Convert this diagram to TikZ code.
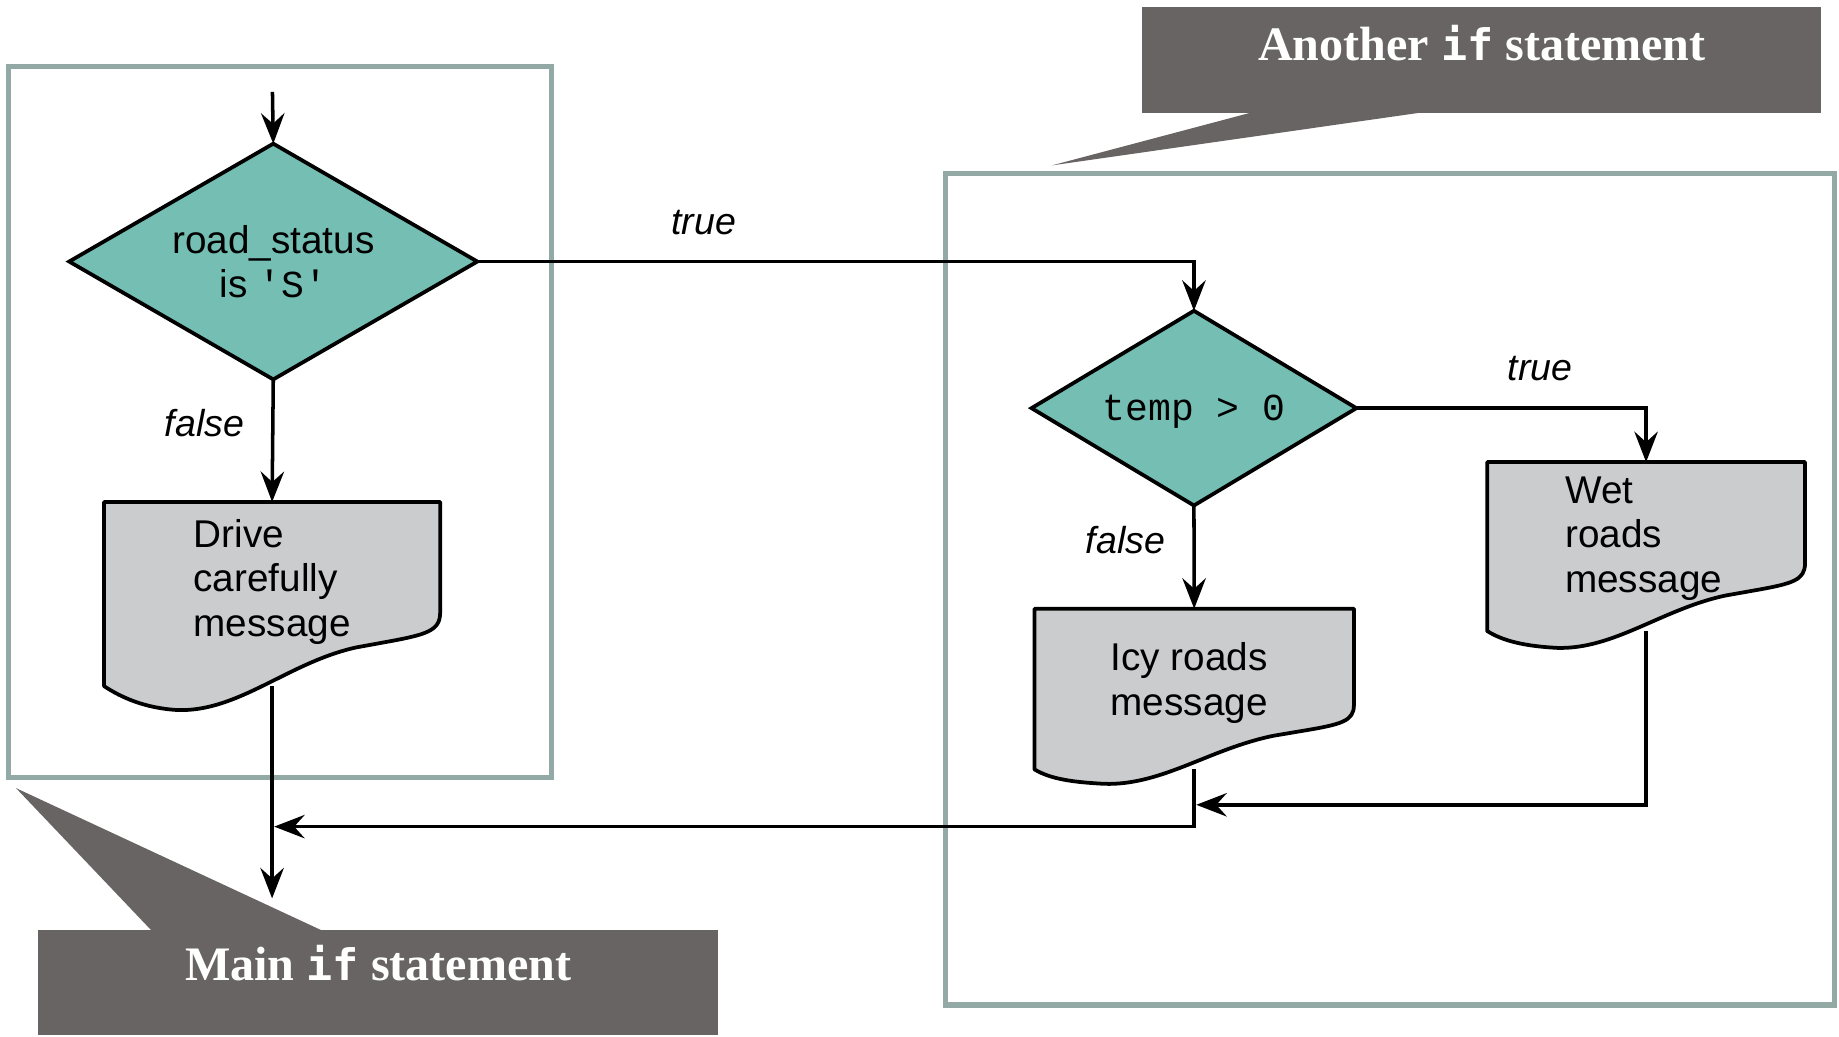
\documentclass[tikz,border=0pt]{standalone}
\usepackage{fontspec}
\usetikzlibrary{arrows.meta,shapes.geometric,calc}
\newfontfamily\flowsans{Liberation Sans}
\newfontfamily\flowmono{Liberation Mono}[Ligatures=TeXOff]
\newfontfamily\callserif{Liberation Serif}
\newfontfamily\callmono{DejaVu Sans Mono}[Ligatures=TeXOff]
\definecolor{diateal}{RGB}{116,190,180}
\definecolor{docgray}{RGB}{203,204,206}
\definecolor{callc}{RGB}{104,100,99}
\definecolor{groupc}{RGB}{147,169,166}
\tikzset{
  arr/.style={draw=black, line width=1.5pt, -{Stealth[length=13pt,width=10pt,inset=4.5pt]}},
  decision/.style={diamond, draw=black, line width=1.6pt, fill=diateal, inner sep=0pt, outer sep=0pt, align=center, font=\flowsans\fontsize{16.5}{19}\selectfont},
  docnode/.style={rectangle, draw=none, inner sep=0pt, outer sep=0pt},
  docfill/.style={draw=black, line width=1.6pt, fill=docgray, line join=round},
  msg/.style={inner sep=0pt, font=\flowsans\fontsize{16.5}{19}\selectfont, text=black},
  lbl/.style={inner sep=0pt, font=\flowsans\itshape\fontsize{16}{19}\selectfont},
  groupbox/.style={draw=groupc, line width=2.25pt},
  callbox/.style={rectangle, fill=callc, draw=none, inner sep=0pt, outer sep=0pt},
  calltext/.style={inner sep=0pt, text=white, font=\callserif\bfseries\fontsize{20.5}{24}\selectfont},
}
% #1 = depth factor of the wave's low point, #2 = node name
\newcommand\docshape[2][1.13]{%
  \path[docfill] let \p1=(#2.north west), \p2=(#2.south east), \n1={\x2-\x1}, \n2={\y1-\y2} in
    (\x1,\y1) -- (\x2,\y1) -- (\x2,{\y1-0.6*\n2})
    .. controls (\x2,{\y1-0.7*\n2}) and ({\x1+0.96*\n1},{\y1-0.72*\n2}) .. ({\x1+0.84*\n1},{\y1-0.76*\n2})
    -- ({\x1+0.75*\n1},{\y1-0.79*\n2})
    .. controls ({\x1+0.55*\n1},{\y1-0.87*\n2}) and ({\x1+0.4*\n1},{\y1-(#1+0.01)*\n2}) .. ({\x1+0.22*\n1},{\y1-#1*\n2})
    .. controls ({\x1+0.12*\n1},{\y1-(#1-0.01)*\n2}) and ({\x1+0.05*\n1},{\y1-1.06*\n2}) .. (\x1,\y2) -- cycle;}
\newcommand\cmono[1]{{\callmono\bfseries\fontsize{18.5}{24}\selectfont #1}}
\begin{document}
\begin{tikzpicture}[x=0.5pt, y=-0.5pt]
\useasboundingbox (0,0) rectangle (1568,884);
% group boxes
\draw[groupbox] (7,57) rectangle (470.5,663);
\draw[groupbox] (806,148) rectangle (1564,857);
% callouts
\node[callbox, minimum width=289.7pt, minimum height=44.95pt] (maincall) at (322.3,837.55) {};
\coordinate (maintip) at (13.7,672);
\fill[callc] ($(maincall.north west)+(96.3,0.5)$) -- (maintip) -- ($(maincall.north west)+(241.4,0.5)$) -- cycle;
\node[calltext, anchor=base] (maintext) at (322.5,836) {Main \cmono{if} statement};
\node[callbox, minimum width=289.5pt, minimum height=45pt] (anothercall) at (1263.5,51) {};
\coordinate (anothertip) at (897,141);
\fill[callc] ($(anothercall.south west)+(94.6,-0.5)$) -- (anothertip) -- ($(anothercall.south west)+(241,-0.5)$) -- cycle;
\node[calltext, anchor=base] (anothertext) at (1263.5,51.6) {Another \cmono{if} statement};
% flowchart nodes
\coordinate (start) at (232.3,78.4);
\node[decision, minimum width=174pt, minimum height=100.5pt, aspect=1.73] (d1) at (233,223) {road\_status\\is {\flowmono\fontsize{16.25}{19}\selectfont 'S'}};
\node[decision, minimum width=138.5pt, minimum height=83pt, aspect=1.66] (d2) at (1018,348) {\flowmono\fontsize{16.25}{19}\selectfont\raisebox{0pt}[12pt][1.5pt]{temp > 0}};
\node[docnode, minimum width=143.3pt, minimum height=78.5pt] (drive) at (232,506.5) {};
\node[docnode, minimum width=136.2pt, minimum height=68.5pt] (icy) at (1018.2,587.5) {};
\node[docnode, minimum width=135.5pt, minimum height=72pt] (wet) at (1403.5,466) {};
\coordinate (mergeA) at (1020,686.2);
\coordinate (mergeB) at (233.8,704.8);
\coordinate (exitM) at (232,766);
% connectors
\draw[arr] (start) -- (d1.north);
\draw[arr] (d1.east) -| (d2.north);
\draw[arr] (d1.south) -- (drive.north);
\draw[arr] (d2.east) -| (wet.north);
\draw[arr] (d2.south) -- (icy.north);
\draw[arr] (drive.south) -- (exitM);
\draw[arr] (wet.south) |- (mergeA);
\draw[arr] (icy.south) |- (mergeB);
% document shapes
\docshape{drive}
\docshape[1.09]{icy}
\docshape[1.10]{wet}
% texts
\node[msg, align=left] (drivetxt) at (232,496) {Drive\\carefully\\message};
\node[msg, align=center] (icytxt) at (1014,582.4) {Icy roads\\message};
\node[msg, align=left] (wettxt) at (1401.5,459) {Wet\\roads\\message};
\node[lbl, anchor=base] (f1) at (174.4,372.4) {false};
\node[lbl, anchor=base] (t1) at (600,200) {true};
\node[lbl, anchor=base] (f2) at (959.6,472) {false};
\node[lbl, anchor=base] (t2) at (1313,324.7) {true};
\end{tikzpicture}
\end{document}
